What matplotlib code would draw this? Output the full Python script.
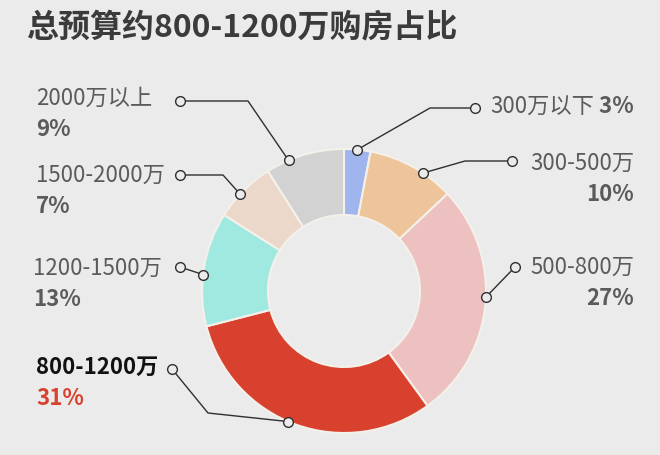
import numpy as np
import matplotlib
matplotlib.use("Agg")
import matplotlib.pyplot as plt

plt.rcParams['font.family'] = ['Noto Sans CJK SC', 'DejaVu Sans']

# data, clockwise from the top
categories = ["300万以下", "300-500万", "500-800万", "800-1200万",
              "1200-1500万", "1500-2000万", "2000万以上"]
shares = [3, 10, 27, 31, 13, 7, 9]
colors = ["#a0b4ee", "#eec59b", "#ecc1bf", "#d9412f",
          "#9fe9e0", "#ecd8ca", "#d2d2d2"]
title = "总预算约800-1200万购房占比"
highlight = "800-1200万"

bg = "#ebebeb"
gray = "#5b5b5b"
W, H = 660, 456
cx, cy, R, ring = 344, 292, 142, 66

# label layout in pixel coords (y down): text anchor, dot, knee,
# and where along the wedge (0..1, clockwise) the leader line lands
layout = {
    "300万以下": dict(text=(490, 107), ha="left", dot=(475, 109), knee=(430, 109), at=0.5, inline=True),
    "300-500万": dict(text=(634, 163), ha="right", dot=(512, 162), knee=(465, 162), at=0.64),
    "500-800万": dict(text=(634, 267), ha="right", dot=(515, 268), knee=None, at=0.47),
    "800-1200万": dict(text=(36, 367), ha="left", dot=(172, 370), knee=(208, 414), at=0.53),
    "1200-1500万": dict(text=(33, 268), ha="left", dot=(180, 268), knee=None, at=0.45),
    "1500-2000万": dict(text=(36, 175), ha="left", dot=(180, 176), knee=(223, 176), at=0.42),
    "2000万以上": dict(text=(36, 98), ha="left", dot=(180, 102), knee=(248, 102), at=0.29),
}

fig = plt.figure(figsize=(W / 100, H / 100), dpi=100, facecolor=bg)
ax = fig.add_axes([0, 0, 1, 1])
ax.set_facecolor(bg)

# y axis is inverted, so counterclockwise in data is clockwise on screen
wedges, _ = ax.pie(shares, colors=colors, center=(cx, cy), radius=R,
                   startangle=-90, counterclock=True,
                   wedgeprops=dict(width=ring, edgecolor="#f4f0ea", linewidth=1.5))
ax.set_xlim(0, W)
ax.set_ylim(H, 0)
ax.set_aspect("equal")
ax.axis("off")

for wedge, cat, share in zip(wedges, categories, shares):
    lay = layout[cat]
    ang = np.deg2rad(wedge.theta1 + lay["at"] * (wedge.theta2 - wedge.theta1))
    edge = (cx + R * np.cos(ang), cy + R * np.sin(ang))
    pts = [lay["dot"]]
    if lay["knee"] is not None:
        pts.append(lay["knee"])
    pts.append(edge)
    xs, ys = zip(*pts)
    ax.plot(xs, ys, color="#2f2f2f", lw=1.0, zorder=3)
    for p in (lay["dot"], edge):
        ax.plot(*p, marker="o", markersize=7, mfc=bg, mec="#2f2f2f", mew=1.0, zorder=4)

    tx, ty = lay["text"]
    pct = f"{share}%"
    if cat == highlight:
        ax.text(tx, ty, cat, fontsize=16, fontweight="bold", color="#111111",
                ha=lay["ha"], va="center")
        ax.text(tx, ty + 32, pct, fontsize=16, fontweight="bold", color="#d9412f",
                ha=lay["ha"], va="center")
    elif lay.get("inline"):
        t = ax.text(tx, ty, cat, fontsize=16, color=gray, ha="left", va="center")
        ax.annotate(" " + pct, xy=(1, 0.5), xycoords=t, fontsize=16,
                    fontweight="bold", color=gray, ha="left", va="center")
    else:
        ax.text(tx, ty, cat, fontsize=16, color=gray, ha=lay["ha"], va="center")
        ax.text(tx, ty + 32, pct, fontsize=16, fontweight="bold", color=gray,
                ha=lay["ha"], va="center")

ax.text(26, 27, title, fontsize=23, fontweight="bold", color="#3b3b3b",
        ha="left", va="center")

fig.savefig("out.png", dpi=100, facecolor=bg)
